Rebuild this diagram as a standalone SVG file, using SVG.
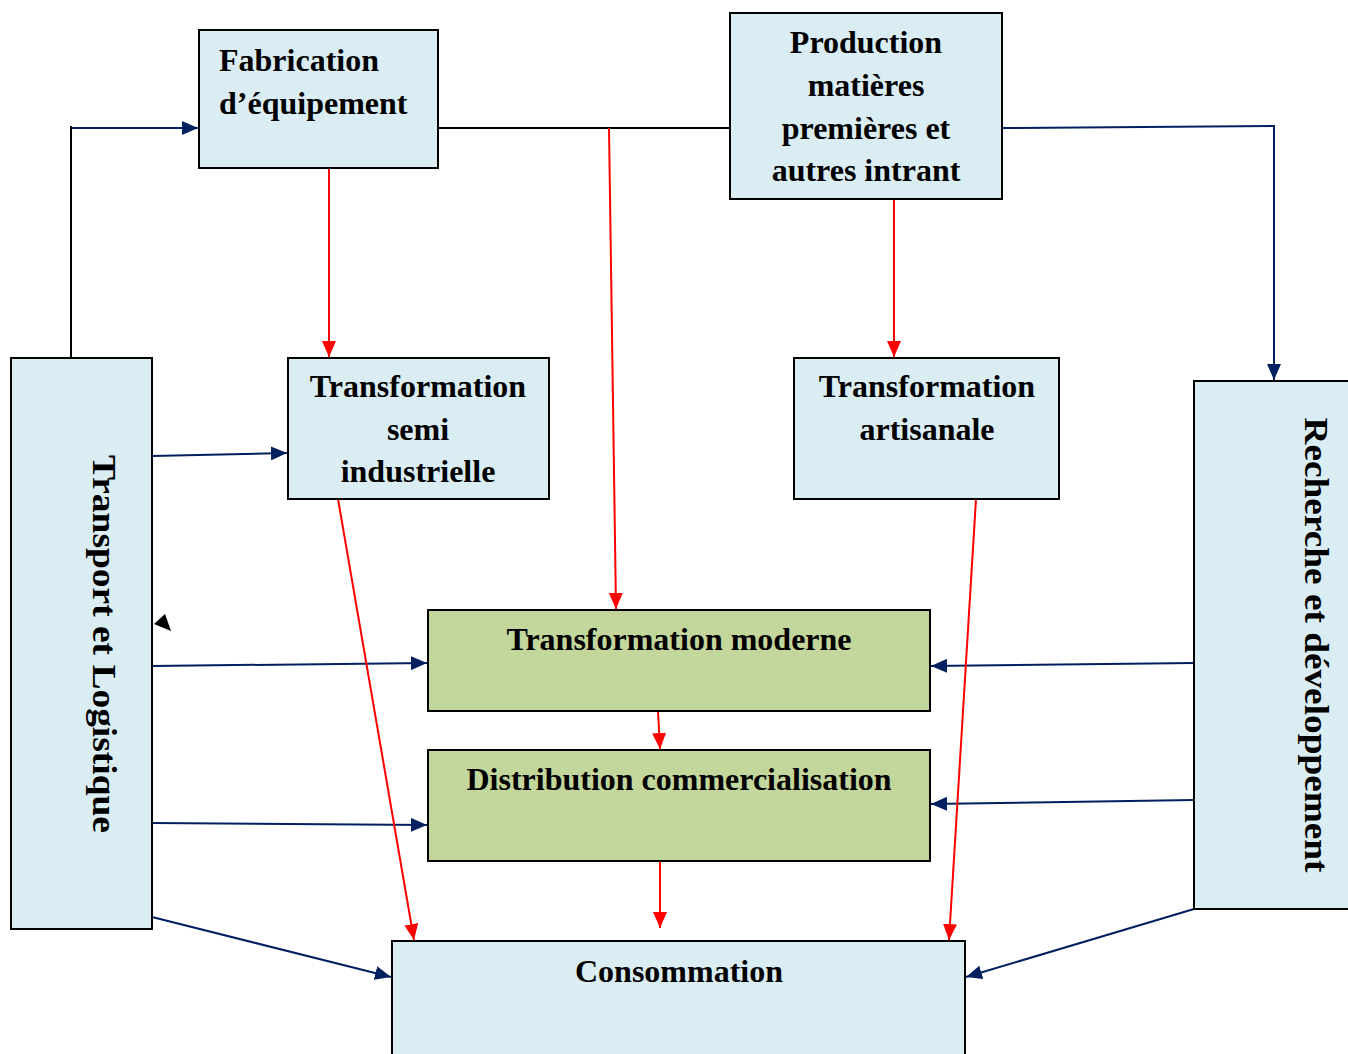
<svg xmlns="http://www.w3.org/2000/svg" width="1348" height="1054" viewBox="0 0 1348 1054">
<style>
.box{fill:#daedf3;stroke:#000;stroke-width:2}
.green{fill:#c3d69b;stroke:#000;stroke-width:2}
.t{font-family:"Liberation Serif","Times New Roman",serif;font-weight:bold;font-size:32px;fill:#000}
.v{font-size:34px}
.c{text-anchor:middle}
.navy{stroke:#002060;stroke-width:2;fill:none}
.red{stroke:#ff0000;stroke-width:2;fill:none}
.blk{stroke:#000;stroke-width:2;fill:none}
</style>
<defs>
<marker id="an" markerUnits="userSpaceOnUse" markerWidth="16" markerHeight="14" viewBox="0 0 16 14" refX="16" refY="7" orient="auto"><path d="M0,0L16,7L0,14Z" fill="#002060"/></marker>
<marker id="ar" markerUnits="userSpaceOnUse" markerWidth="16" markerHeight="14" viewBox="0 0 16 14" refX="16" refY="7" orient="auto"><path d="M0,0L16,7L0,14Z" fill="#ff0000"/></marker>
</defs>
<g id="connectors">
<path class="blk" d="M71,357V126"/>
<path class="navy" d="M71,128H198" marker-end="url(#an)"/>
<path class="blk" d="M438,128H730"/>
<path class="red" d="M609,128L616,609" marker-end="url(#ar)"/>
<path class="red" d="M329,168V357" marker-end="url(#ar)"/>
<path class="red" d="M894,199V357" marker-end="url(#ar)"/>
<path class="navy" d="M1002,128L1274,126V380" marker-end="url(#an)"/>
<path class="navy" d="M152,456L287,453" marker-end="url(#an)"/>
<path class="navy" d="M152,666L427,663" marker-end="url(#an)"/>
<path class="navy" d="M152,823L427,825" marker-end="url(#an)"/>
<path class="navy" d="M152,917L391,977" marker-end="url(#an)"/>
<path class="navy" d="M1194,663L931,666" marker-end="url(#an)"/>
<path class="navy" d="M1194,800L931,804" marker-end="url(#an)"/>
<path class="navy" d="M1194,909L966,977" marker-end="url(#an)"/>
<path class="red" d="M338,499L414,940" marker-end="url(#ar)"/>
<path class="red" d="M976,499L949,940" marker-end="url(#ar)"/>
<path class="red" d="M658,711L660,749" marker-end="url(#ar)"/>
<path class="red" d="M660,862V928" marker-end="url(#ar)"/>
<polygon points="154,624 165,614 171,631" fill="#000"/>
</g>
<g id="fabrication">
<rect class="box" x="199" y="30" width="239" height="138"/>
<text class="t" x="219" y="71">Fabrication</text>
<text class="t" x="219" y="114">d’équipement</text>
</g>
<g id="production">
<rect class="box" x="730" y="13" width="272" height="186"/>
<text class="t c" x="866" y="53">Production</text>
<text class="t c" x="866" y="96">matières</text>
<text class="t c" x="866" y="139">premières et</text>
<text class="t c" x="866" y="181">autres intrant</text>
</g>
<g id="transport">
<rect class="box" x="11" y="358" width="141" height="571"/>
<text class="t v c" transform="translate(104,644) rotate(90)" dominant-baseline="central" textLength="378" lengthAdjust="spacingAndGlyphs">Transport et Logistique</text>
</g>
<g id="semi">
<rect class="box" x="288" y="358" width="261" height="141"/>
<text class="t c" x="418" y="397">Transformation</text>
<text class="t c" x="418" y="440">semi</text>
<text class="t c" x="418" y="482">industrielle</text>
</g>
<g id="artisanale">
<rect class="box" x="794" y="358" width="265" height="141"/>
<text class="t c" x="927" y="397">Transformation</text>
<text class="t c" x="927" y="440">artisanale</text>
</g>
<g id="recherche">
<rect class="box" x="1194" y="381" width="160" height="528"/>
<text class="t v c" transform="translate(1316,645) rotate(90)" dominant-baseline="central" textLength="455" lengthAdjust="spacingAndGlyphs">Recherche et développement</text>
</g>
<g id="moderne">
<rect class="green" x="428" y="610" width="502" height="101"/>
<text class="t c" x="679" y="650">Transformation moderne</text>
</g>
<g id="distribution">
<rect class="green" x="428" y="750" width="502" height="111"/>
<text class="t c" x="679" y="790">Distribution commercialisation</text>
</g>
<g id="consommation">
<rect class="box" x="392" y="941" width="573" height="120"/>
<text class="t c" x="679" y="982">Consommation</text>
</g>
</svg>
